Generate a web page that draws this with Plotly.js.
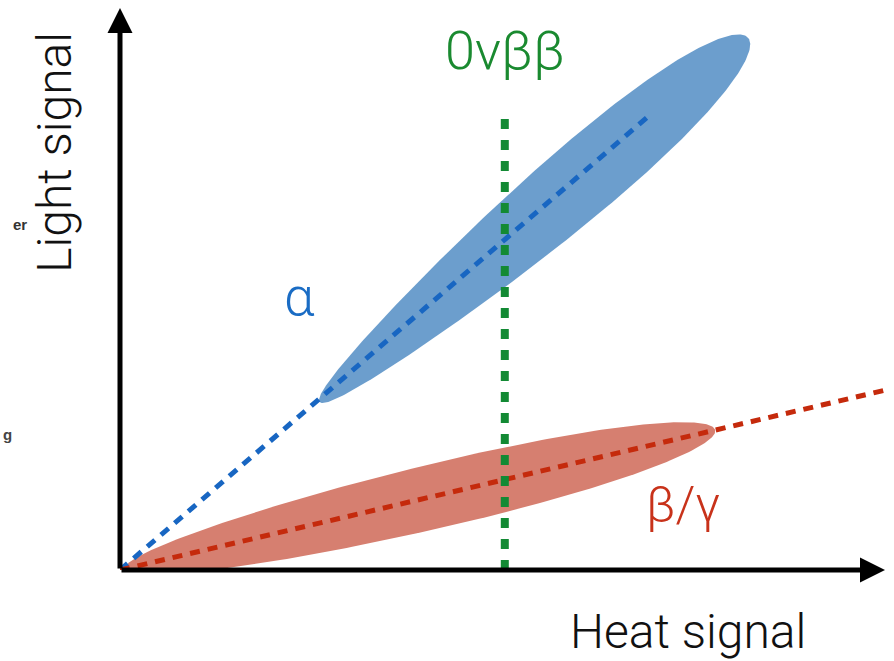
<!DOCTYPE html>
<html><head><meta charset="utf-8">
<script src="https://cdn.plot.ly/plotly-3.0.1.min.js"></script>
<style>html,body{margin:0;padding:0;background:#fff}#chart{width:894px;height:661px}</style>
</head><body><div id="chart"></div>
<script>
// ---- Data (arbitrary units: heat on x, light on y) ----
const heatRange = [0, 10];
const lightRange = [0, 10];

// centre lines of the two populations
const alphaLineHeat = [0, 6.93];
const alphaLineLight = [0, 8.10];
const betaLineHeat = [0, 10];
const betaLineLight = [0, 3.20];

// 0νββ energy (Q-value) marker
const qbbHeat = [5.03, 5.03];
const qbbLight = [0, 8.10];

// population bands: [start, end] along band axis, half-width in heat units
const alphaBandHeat = [2.61, 8.21];
const alphaBandLight = [2.99, 9.47];
const alphaBandHalfWidth = [0.47];
const betaBandHeat = [0.06, 7.78];
const betaBandLight = [0.01, 2.49];
const betaBandHalfWidth = [0.42];

// labels
const labelTexts = ['0νββ', 'α', 'β/γ'];
const labelHeat = [5.03, 2.35, 7.36];
const labelLight = [9.25, 4.86, 1.16];

const axisTitles = ['Heat signal', 'Light signal'];

// ---- Layout geometry ----
const W = 894, H = 661;
const M = {l: 120, r: 9, t: 8, b: 91};
const plotW = W - M.l - M.r, plotH = H - M.t - M.b;

function bandOutline(hx, ly, halfW, skew) {
  const kx = plotW / (heatRange[1] - heatRange[0]);
  const ky = plotH / (lightRange[1] - lightRange[0]);
  const x0 = hx[0]*kx, y0 = ly[0]*ky, x1 = hx[1]*kx, y1 = ly[1]*ky;
  const cx = (x0+x1)/2, cy = (y0+y1)/2, dx = (x1-x0)/2, dy = (y1-y0)/2;
  const L = Math.hypot(dx, dy), ux = dx/L, uy = dy/L, nx = -uy, ny = ux;
  const Wd = halfW * kx;
  const xs = [], ys = [];
  const N = 160;
  for (let i = 0; i <= 2*N; i++) {
    const th = Math.PI * i / N;
    const t = -Math.cos(th), s = Math.sin(th);
    const w = Wd * s * (1 + skew * t);
    xs.push((cx + ux*L*t + nx*w)/kx);
    ys.push((cy + uy*L*t + ny*w)/ky);
  }
  return {xs, ys};
}

const aB = bandOutline(alphaBandHeat, alphaBandLight, alphaBandHalfWidth[0], 0.3);
const bB = bandOutline(betaBandHeat, betaBandLight, betaBandHalfWidth[0], 0.1);

const FONT = 'Roboto, "Liberation Sans", sans-serif';

const traces = [
  {x: bB.xs, y: bB.ys, mode: 'lines', fill: 'toself', fillcolor: '#d67f70', line: {width: 0}, hoverinfo: 'skip'},
  {x: aB.xs, y: aB.ys, mode: 'lines', fill: 'toself', fillcolor: '#6c9ecd', line: {width: 0}, hoverinfo: 'skip'},
  {x: alphaLineHeat, y: alphaLineLight, mode: 'lines', line: {color: '#1866c2', width: 5, dash: '10px,8px'}},
  {x: betaLineHeat, y: betaLineLight, mode: 'lines', line: {color: '#c52a0c', width: 5, dash: '10px,8px'}},
  {x: qbbHeat, y: qbbLight, mode: 'lines', line: {color: '#138a34', width: 8, dash: '10px,11px'}}
];

const labelColors = ['#1a8a30', '#1a6cc4', '#c8321a'];
const labelSizes = [54, 54, 50];
const annotations = labelTexts.map((t, i) => ({
  x: labelHeat[i], y: labelLight[i], xref: 'x', yref: 'y', text: t, showarrow: false,
  font: {family: FONT, size: labelSizes[i], color: labelColors[i], weight: 300}
}));
// axis titles
annotations.push({x: 0.7425, y: -0.110, xref: 'paper', yref: 'paper', text: axisTitles[0], showarrow: false,
  xanchor: 'center', yanchor: 'middle', font: {family: FONT, size: 48, color: '#111', weight: 300}});
annotations.push({x: -0.085, y: 0.744, xref: 'paper', yref: 'paper', text: axisTitles[1], showarrow: false, textangle: -90,
  xanchor: 'center', yanchor: 'middle', font: {family: FONT, size: 48, color: '#111', weight: 300}});
// axis arrows
annotations.push({x: heatRange[1], y: 0, ax: 0, ay: 0, axref: 'x', ayref: 'y', xref: 'x', yref: 'y', text: '',
  showarrow: true, arrowhead: 2, arrowsize: 1, arrowwidth: 5, arrowcolor: '#000', standoff: 0, startstandoff: 0});
annotations.push({x: 0, y: lightRange[1], ax: 0, ay: 0, axref: 'x', ayref: 'y', xref: 'x', yref: 'y', text: '',
  showarrow: true, arrowhead: 2, arrowsize: 1, arrowwidth: 5, arrowcolor: '#000', standoff: 0, startstandoff: 0});
// cropped fragments at left edge
annotations.push({x: -0.142, y: 0.614, xref: 'paper', yref: 'paper', text: 'er', showarrow: false,
  font: {family: 'Liberation Sans', size: 15, color: '#333', weight: 700}});
annotations.push({x: -0.155, y: 0.222, xref: 'paper', yref: 'paper', text: 'g', showarrow: false,
  font: {family: 'Liberation Sans', size: 15, color: '#444', weight: 700}});

const axisCommon = {showgrid: false, zeroline: false, showticklabels: false, ticks: '', showline: false, fixedrange: true};
const layout = {
  width: W, height: H, margin: M, showlegend: false,
  paper_bgcolor: '#fff', plot_bgcolor: '#fff',
  xaxis: Object.assign({range: heatRange}, axisCommon),
  yaxis: Object.assign({range: lightRange}, axisCommon),
  annotations: annotations
};

Plotly.newPlot('chart', traces, layout, {staticPlot: true, displayModeBar: false});
</script></body></html>
